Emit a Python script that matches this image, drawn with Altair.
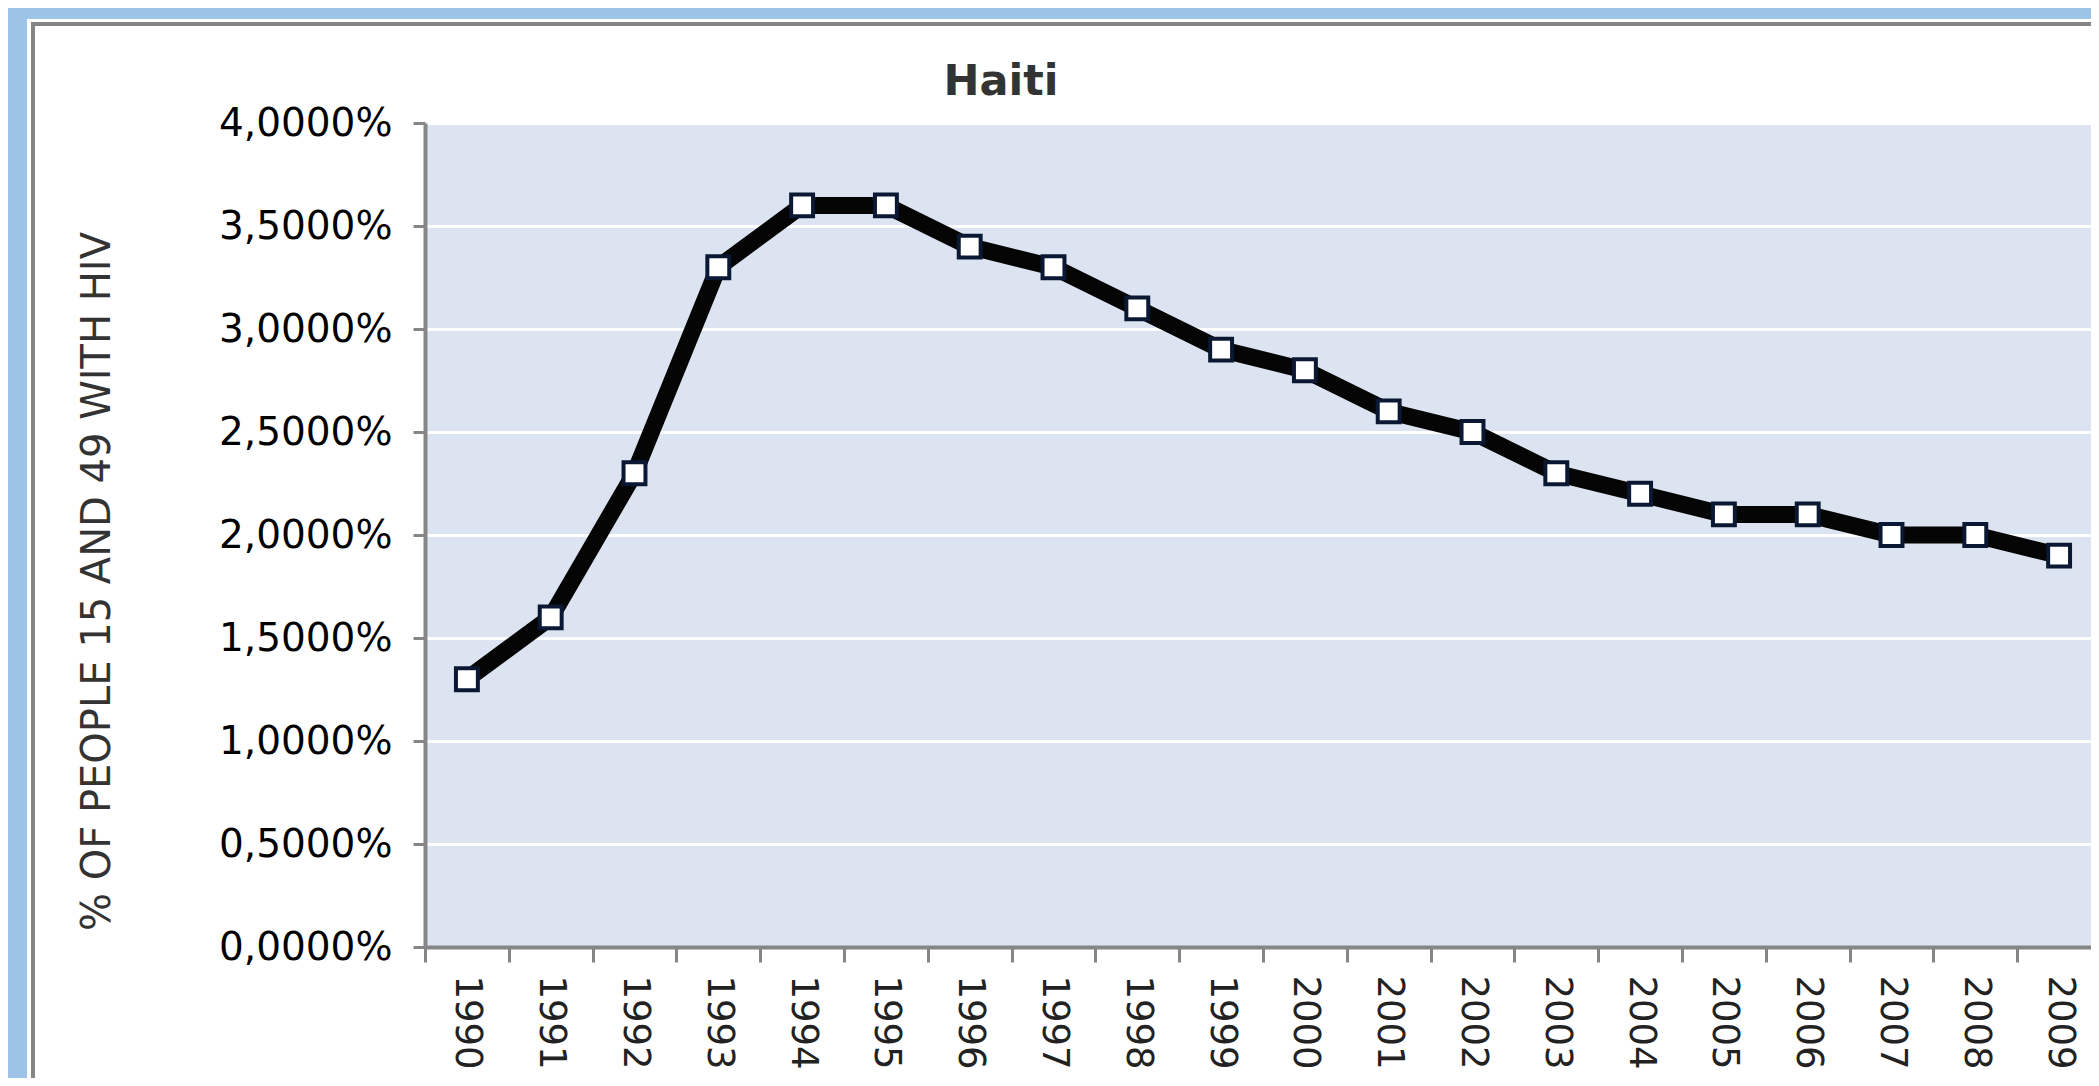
import altair as alt
import pandas as pd

# ---- data ----
years = [1990, 1991, 1992, 1993, 1994, 1995, 1996, 1997, 1998, 1999,
         2000, 2001, 2002, 2003, 2004, 2005, 2006, 2007, 2008, 2009]
hiv_pct = [1.3, 1.6, 2.3, 3.3, 3.6, 3.6, 3.4, 3.3, 3.1, 2.9,
           2.8, 2.6, 2.5, 2.3, 2.2, 2.1, 2.1, 2.0, 2.0, 1.9]
y_ticks = [0.0, 0.5, 1.0, 1.5, 2.0, 2.5, 3.0, 3.5, 4.0]
x_bounds = [1989.5, 1990.5, 1991.5, 1992.5, 1993.5, 1994.5, 1995.5, 1996.5,
            1997.5, 1998.5, 1999.5, 2000.5, 2001.5, 2002.5, 2003.5, 2004.5,
            2005.5, 2006.5, 2007.5, 2008.5]
chart_title = "Haiti"
y_title = "% OF PEOPLE 15 AND 49 WITH HIV"

df = pd.DataFrame({"year": years, "pct": hiv_pct})
deco = pd.DataFrame({"k": [0]})

W, H = 1666, 824
PAD_L, PAD_T, PAD_R, PAD_B = 417, 115, 0, 131
CAT = 83.8

x_scale = alt.Scale(domain=[1989.5, 1989.5 + W / CAT], nice=False, zero=False)
y_scale = alt.Scale(domain=[0, 4], nice=False, zero=True)

AXIS_GRAY = "#868686"

x_axis = alt.Axis(
    values=x_bounds, title=None,
    labelExpr="format(datum.value + 0.5, 'd')",
    labelOffset=CAT / 2, labelAngle=90,
    labelFont="DejaVu Sans", labelFontSize=37, labelColor="#222222",
    labelPadding=13, labelFlush=False, labelOverlap=False,
    tickSize=15, tickWidth=3, tickColor=AXIS_GRAY,
    domainColor=AXIS_GRAY, domainWidth=4, grid=False,
)
y_axis = alt.Axis(
    values=y_ticks,
    labelExpr="replace(format(datum.value, '.4f'), '.', ',') + '%'",
    labelFont="DejaVu Sans", labelFontSize=39, labelColor="#000000",
    labelPadding=21,
    tickSize=12, tickWidth=3, tickColor=AXIS_GRAY,
    domainColor=AXIS_GRAY, domainWidth=4,
    grid=True, gridColor="#ffffff", gridWidth=3,
    title=y_title, titleFont="DejaVu Sans", titleFontSize=40,
    titleFontWeight="normal", titleColor="#333333",
    titleAngle=270, titleX=-316, titleY=458,
    titleBaseline="alphabetic", titleAlign="center",
)

X = alt.X("year:Q", scale=x_scale, axis=x_axis)
Y = alt.Y("pct:Q", scale=y_scale, axis=y_axis)

BLUE = "#9dc3e6"
FRAME = "#858585"

top_strip = alt.Chart(deco).mark_rect(color=BLUE).encode(
    x=alt.value(-PAD_L), x2=alt.value(W), y=alt.value(-PAD_T), y2=alt.value(-104))
left_strip = alt.Chart(deco).mark_rect(color=BLUE).encode(
    x=alt.value(-PAD_L), x2=alt.value(-398), y=alt.value(-PAD_T), y2=alt.value(H + PAD_B))
top_gray = alt.Chart(deco).mark_rect(color=FRAME).encode(
    x=alt.value(-394), x2=alt.value(W), y=alt.value(-101), y2=alt.value(-97))
left_gray = alt.Chart(deco).mark_rect(color=FRAME).encode(
    x=alt.value(-394), x2=alt.value(-390), y=alt.value(-101), y2=alt.value(H + PAD_B))

line = alt.Chart(df).mark_line(
    interpolate="linear", color="#050505", strokeWidth=17,
    strokeJoin="round", strokeCap="round"
).encode(x=X, y=Y)

points = alt.Chart(df).mark_point(
    shape="square", fill="#ffffff", stroke="#0b1833", strokeWidth=4,
    size=480, opacity=1, fillOpacity=1
).encode(x=X, y=Y)

title_text = alt.Chart(deco).mark_text(
    text=chart_title, font="DejaVu Sans", fontSize=43, fontWeight="bold",
    color="#333333", align="center", baseline="alphabetic"
).encode(x=alt.value(576), y=alt.value(-28))

chart = alt.layer(
    top_strip, left_strip, top_gray, left_gray, line, points, title_text
).properties(
    width=W, height=H,
    padding={"left": PAD_L, "top": PAD_T, "right": PAD_R, "bottom": PAD_B},
    autosize=alt.AutoSizeParams(type="none"),
    background="#ffffff",
).configure_view(fill="#dbe4f0", stroke="transparent")

chart.save("out.html", embed_options={"renderer": "svg", "actions": False})
